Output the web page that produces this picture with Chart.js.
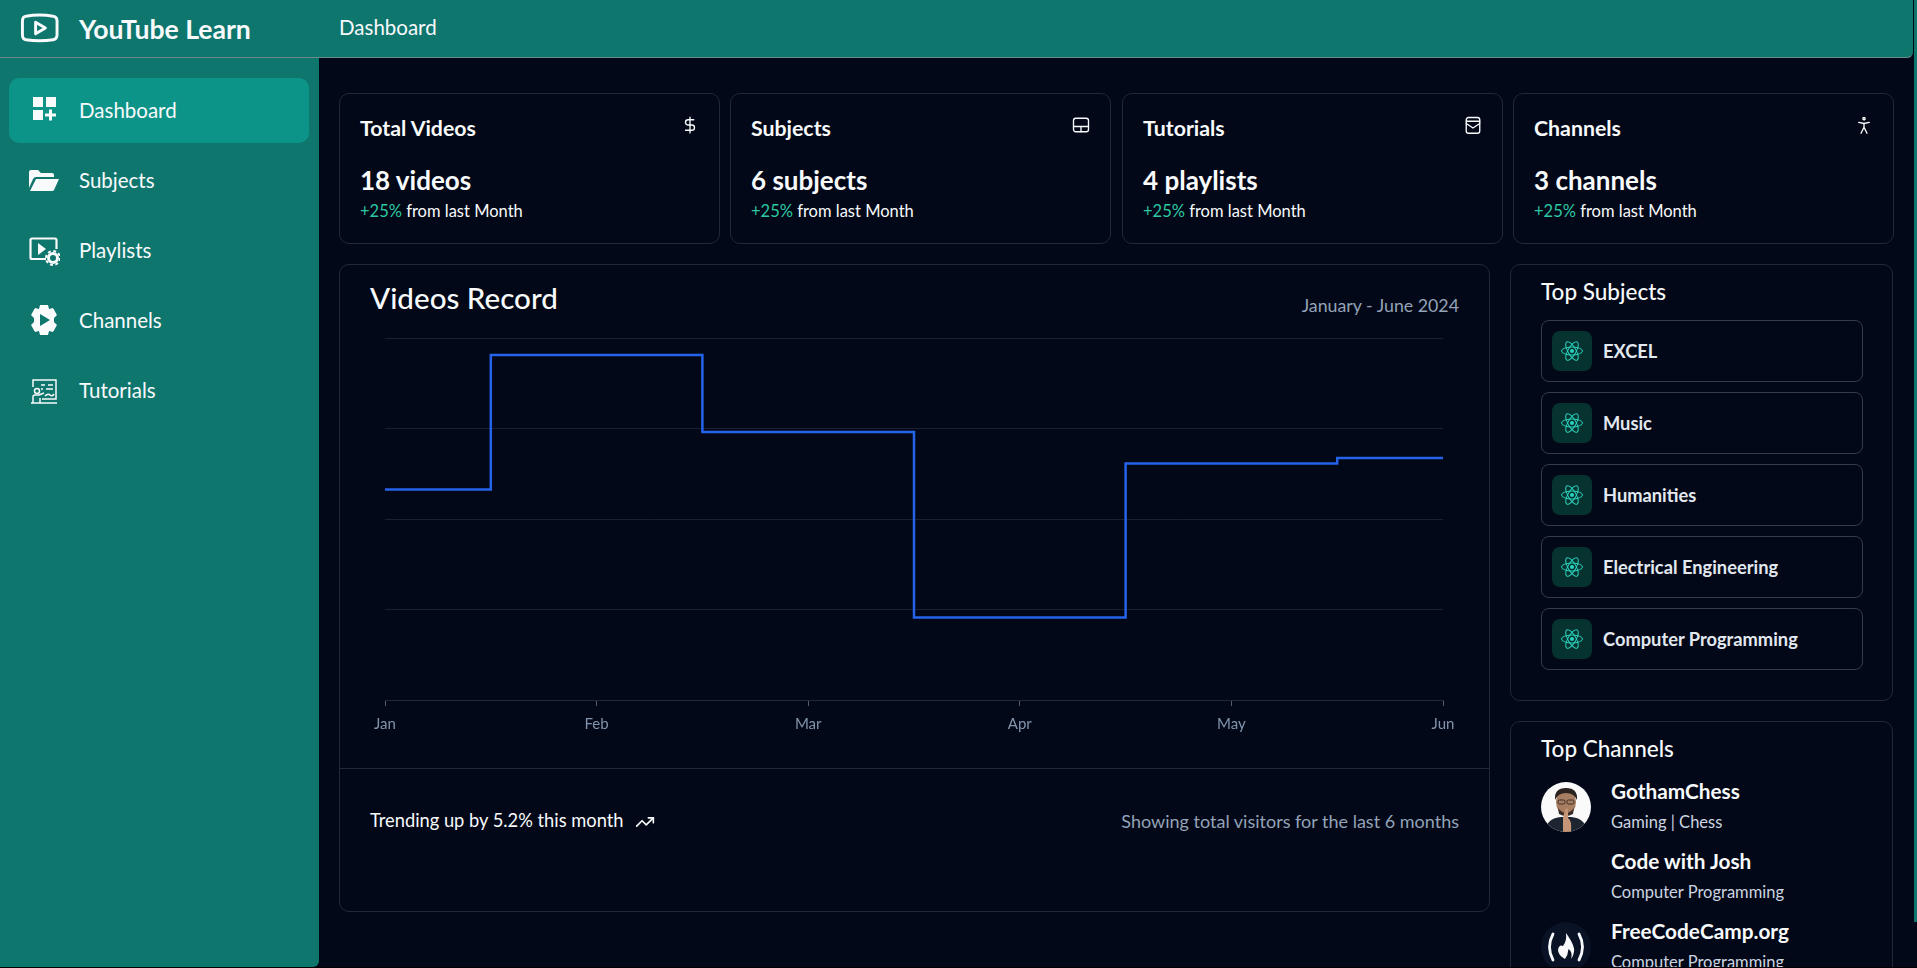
<!DOCTYPE html>
<html lang="en">
<head>
<meta charset="utf-8">
<title>YouTube Learn</title>
<script src="https://cdn.jsdelivr.net/npm/chart.js@4"></script>
<style>
    * { box-sizing: border-box; margin: 0; padding: 0; }
    html, body { width: 1917px; height: 968px; overflow: hidden; background: #020817; color: #f8fafc; font-family: Lato, "Noto Sans", sans-serif; }
    .abs, .card, .nav-item, .subject { position: absolute; }
    .line { position: absolute; white-space: nowrap; line-height: 30px; height: 30px; }

    #header { position: absolute; left: 0; top: 0; width: 1913px; height: 58px; background: #0f766e; border-bottom: 1px solid #6b8b8b; border-bottom-right-radius: 6px; }
    #scrollThumb { position: absolute; left: 1914px; top: 0; width: 3px; height: 922px; background: #0f766e; }
    #sidebar { position: absolute; left: 0; top: 58px; width: 319px; height: 909px; background: #0f766e; border-bottom-right-radius: 6px; }
    #bottomEdge { position: absolute; left: 0; top: 967px; width: 1917px; height: 1px; background: #000; }
    .nav-item { left: 9px; width: 300px; height: 65px; border-radius: 10px; }
    .nav-item.active { background: #0d9488; }
    .nav-item .line { left: 70px; top: 17px; font-size: 20.500px; }
    .nav-item svg { position: absolute; left: 19px; top: 16px; width: 32px; height: 32px; }

    .card { border: 1px solid #1e293b; border-radius: 10px; background: #020817; }
    .stat .title { left: 20px; top: 19px; font-size: 21.300px; font-weight: 700; }
    .stat .value { left: 20px; top: 71px; font-size: 26px; font-weight: 700; }
    .stat .delta { left: 20px; top: 102px; font-size: 16.500px; }
    .stat .delta span { color: #2dc7a3; }
    .stat svg { position: absolute; left: 341px; top: 22px; width: 18px; height: 18px; }

    #chartCard canvas { position: absolute; }
    #chartDivider { position: absolute; left: 0; top: 503px; width: 100%; height: 1px; background: #1e293b; }
    .muted { color: #94a3b8; }

    .subject { left: 30px; width: 322px; height: 62px; border: 1px solid #343b4a; border-radius: 8px; }
    .subject .badge { position: absolute; left: 10px; top: 10px; width: 40px; height: 40px; border-radius: 8px; background: #06332f; }
    .subject .badge svg { position: absolute; left: 8px; top: 8px; width: 24px; height: 24px; }
    .subject .line { left: 61px; top: 15px; font-size: 18.300px; font-weight: 700; color: #e2e8f0; }
    .channel-name { left: 100px; font-size: 20.800px; font-weight: 700; }
    .channel-sub { left: 100px; font-size: 16.500px; color: #cbd5e1; }
</style>
</head>
<body>
<div id="scrollThumb"></div>
<div id="header">
    <svg class="abs" style="left:20px;top:12px;width:39px;height:32px" viewBox="0 0 40 32" fill="none" stroke="#f8fafc" stroke-width="3" stroke-linejoin="round">
        <path d="M6 4 Q20 1.5 34 4 Q38 4.5 38 9 V23 Q38 27.500 34 28 Q20 30 6 28 Q2.500 27.500 2.500 23 V9 Q2.500 4.500 6 4 Z"/>
        <path d="M16 10 L26 16 L16 22 Z"/>
    </svg>
    <div class="line" style="left:79px;top:14px;font-size:26.600px;font-weight:700">YouTube Learn</div>
    <div class="line" style="left:339px;top:12px;font-size:20.500px">Dashboard</div>
</div>
<div id="sidebar"></div>

<div class="card" id="chartCard" style="left:339px;top:264px;width:1151px;height:648px">
    <div class="line" style="left:30px;top:18px;font-size:29.600px;font-weight:500">Videos Record</div>
    <div class="line muted" style="right:30px;top:25px;font-size:17.800px">January - June 2024</div>
    <canvas id="videosChart" width="1140" height="430" style="left:5px;top:55px;width:1140px;height:430px"></canvas>
    <div id="chartDivider"></div>
    <div class="line" style="left:30px;top:540px;font-size:18.300px">Trending up by 5.2% this month</div>
    <svg class="abs" style="left:295px;top:547px;width:20px;height:20px" viewBox="0 0 24 24" fill="none" stroke="#f8fafc" stroke-width="2" stroke-linecap="round" stroke-linejoin="round">
        <path d="M22 7 13.500 15.500 8.500 10.500 2 17"/><path d="M16 7h6v6"/>
    </svg>
    <div class="line muted" style="right:30px;top:541px;font-size:18px">Showing total visitors for the last 6 months</div>
</div>

<div class="card" style="left:1510px;top:264px;width:383px;height:437px" id="subjectsCard">
    <div class="line" style="left:30px;top:12px;font-size:22.500px;font-weight:500">Top Subjects</div>
</div>

<div class="card" style="left:1510px;top:721px;width:383px;height:300px" id="channelsCard">
    <div class="line" style="left:30px;top:12px;font-size:22.500px;font-weight:500">Top Channels</div>
    <svg class="abs" style="left:30px;top:60px;width:50px;height:50px" viewBox="0 0 50 50">
        <defs><clipPath id="avatarClip"><circle cx="25" cy="25" r="25"/></clipPath></defs>
        <g clip-path="url(#avatarClip)">
            <rect width="50" height="50" fill="#fafafa"/>
            <path d="M3 50 Q6 36 20 35 H30 Q44 36 47 50 Z" fill="#1c2530"/>
            <ellipse cx="25" cy="20" rx="10" ry="13" fill="#a87e62"/>
            <path d="M14 18 Q13 6 25 6 Q37 6 36 18 Q33 11 25 11 Q17 11 14 18 Z" fill="#2a2320"/>
            <path d="M17 26 Q25 36 33 26 L32 32 Q25 36 18 32 Z" fill="#3a2c26"/>
            <rect x="17" y="18" width="7" height="4" rx="1.500" fill="none" stroke="#3a2c26"/>
            <rect x="26" y="18" width="7" height="4" rx="1.500" fill="none" stroke="#3a2c26"/>
            <path d="M22 50 V36 Q25 22 27 28 V36 Q31 38 30 50 Z" fill="#c79676"/>
        </g>
    </svg>
    <svg class="abs" style="left:30px;top:200px;width:50px;height:50px" viewBox="0 0 50 50">
        <circle cx="25" cy="25" r="25" fill="#0a1226"/>
        <path d="M12 12 Q5 25 12 38 M38 12 Q45 25 38 38" fill="none" stroke="#f8fafc" stroke-width="2.800" stroke-linecap="round"/>
        <path d="M25 11 Q30 18 32 23 Q35 30 30 37 Q32 30 27.500 27 Q27 33 24 37 Q17 33 17 28 Q18 22 22 24 Q26 19 25 11 Z" fill="#f8fafc"/>
    </svg>
</div>

<div id="bottomEdge"></div>

<script>
// chart data
const months = ['Jan', 'Feb', 'Mar', 'Apr', 'May', 'Jun'];
const videoCounts = [186, 305, 237, 73, 209, 214];

// rest of the dashboard
const navLabels = ['Dashboard', 'Subjects', 'Playlists', 'Channels', 'Tutorials'];
const statTitles = ['Total Videos', 'Subjects', 'Tutorials', 'Channels'];
const statValues = ['18 videos', '6 subjects', '4 playlists', '3 channels'];
const subjects = ['EXCEL', 'Music', 'Humanities', 'Electrical Engineering', 'Computer Programming'];
const channelNames = ['GothamChess', 'Code with Josh', 'FreeCodeCamp.org'];
const channelTopics = ['Gaming | Chess', 'Computer Programming', 'Computer Programming'];

const navIcons = [
    '<path fill="#f8fafc" d="M5 3h10v10H5zM18 3h10v10H18zM5 16h10v10H5z"/><path stroke="#f8fafc" stroke-width="3" d="M17 21h11M22.500 15.500v11"/>',
    '<path fill="#f8fafc" d="M1 8q0-2 2-2h7l3 3h11q2 0 2 2v2H8q-2 0-3 2l-4 9zM8 15h23l-5 11q-.5 1-2 1H2z"/>',
    '<path fill="none" stroke="#f8fafc" stroke-width="2.200" d="M18 25H4q-1.500 0-1.500-1.500V6q0-1.500 1.500-1.500h23q1.500 0 1.500 1.500v9"/><path fill="#f8fafc" d="M10 9l8 6-8 6z"/><circle cx="25" cy="24" r="4.500" fill="none" stroke="#f8fafc" stroke-width="3"/><circle cx="25" cy="24" r="7" fill="none" stroke="#f8fafc" stroke-width="2" stroke-dasharray="3 2.500"/>',
    '<path fill="#f8fafc" d="M12 1h8l1 4 4-1 4 7-3 3v4l3 3-4 7-4-1-1 4h-8l-1-4-4 1-4-7 3-3v-4L3 11l4-7 4 1z"/><path fill="#0f766e" d="M12 10l10 6-10 6z"/>',
    '<g fill="none" stroke="#f8fafc" stroke-width="1.500"><path d="M5 13V6h23v19H14"/><circle cx="9" cy="17" r="2.500"/><path d="M5 29v-6q0-2 2-2h4l5-2M12 29v-5M3 29h26M13 11h4M20 11h5M13 15h2M18 15h7M17 22q3-3 5-1t4-1"/></g>'
];
const statIcons = [
    '<path d="M12 1.500v21M17 5H9.500a3.500 3.500 0 0 0 0 7h5a3.500 3.500 0 0 1 0 7H6"/>',
    '<rect x="2" y="3" width="20" height="18" rx="3"/><path d="M2 14h20M12 14v7"/>',
    '<rect x="3" y="2" width="18" height="21" rx="3"/><path d="M3 7h18M3 10l9 6 9-6"/>',
    '<circle cx="12" cy="3.500" r="1.500"/><path d="M5 8.500l7 1.500 7-1.500M12 10v5M12 15l-4 8M12 15l4 8"/>'
];
const atomIcon = '<g fill="none" stroke="#2dd4bf" stroke-width="1"><ellipse cx="12" cy="12" rx="10.500" ry="4"/><ellipse cx="12" cy="12" rx="10.500" ry="4" transform="rotate(60 12 12)"/><ellipse cx="12" cy="12" rx="10.500" ry="4" transform="rotate(120 12 12)"/></g><circle cx="12" cy="12" r="2" fill="#2dd4bf"/>';

const statLefts = [339, 730, 1122, 1513];
const addTo = (parent, html) => parent.insertAdjacentHTML('beforeend', html);

navLabels.forEach((label, i) => {
    addTo(document.getElementById('sidebar'), `
        <div class="nav-item ${i === 0 ? 'active' : ''}" style="top:${20 + i * 70}px">
            <svg viewBox="0 0 32 32">${navIcons[i]}</svg>
            <div class="line">${label}</div>
        </div>`);
});

statTitles.forEach((title, i) => {
    addTo(document.body, `
        <div class="card stat" style="left:${statLefts[i]}px;top:93px;width:381px;height:151px">
            <div class="line title">${title}</div>
            <div class="line value">${statValues[i]}</div>
            <div class="line delta"><span>+25%</span> from last Month</div>
            <svg viewBox="0 0 24 24" fill="none" stroke="#f8fafc" stroke-width="1.800" stroke-linecap="round" stroke-linejoin="round">${statIcons[i]}</svg>
        </div>`);
});

subjects.forEach((subject, i) => {
    addTo(document.getElementById('subjectsCard'), `
        <div class="subject" style="top:${55 + i * 72}px">
            <div class="badge"><svg viewBox="0 0 24 24">${atomIcon}</svg></div>
            <div class="line">${subject}</div>
        </div>`);
});

channelNames.forEach((name, i) => {
    addTo(document.getElementById('channelsCard'), `
        <div class="line channel-name" style="top:${54 + i * 70}px">${name}</div>
        <div class="line channel-sub" style="top:${85 + i * 70}px">${channelTopics[i]}</div>`);
});

new Chart(
    document.getElementById('videosChart'),
    {
        type: 'line',
        data: {
            labels: months,
            datasets: [{
                data: videoCounts,
                fill: false,
                borderColor: '#2563eb',
                borderWidth: 2.500,
                stepped: 'middle',
                pointRadius: 0
            }]
        },
        options: {
            responsive: false,
            animation: false,
            layout: {
                padding: { left: 40, right: 42, top: 18, bottom: 0 }
            },
            plugins: {
                legend: { display: false },
                tooltip: { enabled: false }
            },
            scales: {
                x: {
                    afterFit: (scale) => { scale.height = 50; },
                    border: { color: '#1e293b' },
                    grid: { drawOnChartArea: false, color: '#565c68', tickLength: 6 },
                    ticks: {
                        color: '#8294ad',
                        padding: 9,
                        maxRotation: 0,
                        font: { family: 'Lato', size: 15 }
                    }
                },
                y: {
                    min: 0,
                    max: 320,
                    border: { display: false },
                    grid: { color: '#182132', drawTicks: false },
                    ticks: { display: false, stepSize: 80 }
                }
            }
        }
    }
)
</script>
</body>
</html>
